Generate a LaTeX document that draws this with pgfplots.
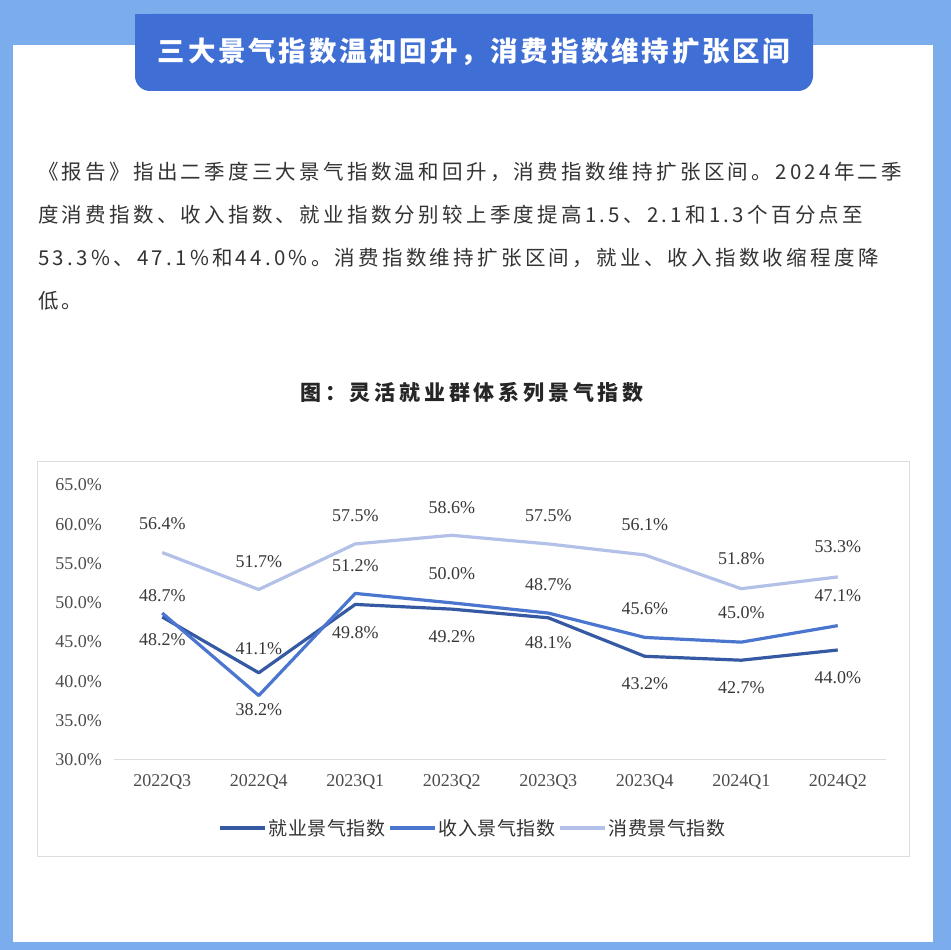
\documentclass[border=0pt]{standalone}
\usepackage{fontspec}
\usepackage{pgfplots}
\usepackage{pgfplotstable}
\pgfplotsset{compat=1.18}
\setmainfont{Liberation Serif}
\newfontfamily\cjkbody[LetterSpace=16]{Noto Sans CJK SC}
\newfontfamily\cjkhead[LetterSpace=10]{Noto Sans CJK SC}
\newfontfamily\cjktitle[LetterSpace=18]{Noto Sans CJK SC}
\newfontfamily\cjklegend[LetterSpace=3]{Noto Sans CJK SC}

\definecolor{frameblue}{HTML}{7BADEC}
\definecolor{bannerblue}{HTML}{3F6FD5}
\definecolor{boxgrey}{HTML}{DDDDDD}
\definecolor{txt}{HTML}{333333}
\definecolor{empc}{HTML}{3559A3}
\definecolor{incc}{HTML}{4A76CF}
\definecolor{conc}{HTML}{B3C1E8}

% x = quarter index, y = index value, dy = label offset (pt)
\pgfplotstableread{
x y dy
0 48.2 -23
1 41.1 24
2 49.8 -28
3 49.2 -28
4 48.1 -25
5 43.2 -27
6 42.7 -27
7 44.0 -28
}\emp
\pgfplotstableread{
x y dy
0 48.7 17
1 38.2 -14
2 51.2 28
3 50.0 29
4 48.7 28
5 45.6 29
6 45.0 29
7 47.1 30
}\inc
\pgfplotstableread{
x y dy
0 56.4 29
1 51.7 28
2 57.5 28
3 58.6 28
4 57.5 28
5 56.1 30
6 51.8 30
7 53.3 30
}\con

\begin{document}
\begin{tikzpicture}
% page frame
\fill[frameblue] (0,0) rectangle (951pt,950pt);
\fill[white] (13pt,8pt) rectangle (933pt,905pt);
% banner
\fill[bannerblue, rounded corners=15pt] (135pt,859pt) rectangle (813pt,936pt);
\fill[bannerblue] (135pt,900pt) rectangle (813pt,936pt);
\node[text=white, font=\cjkhead\fontsize{27.5}{30}\selectfont\bfseries] at (474pt,898pt)
  {三大景气指数温和回升，消费指数维持扩张区间};
% paragraph
\begin{scope}[every node/.style={anchor=west, inner sep=0pt, text=txt,
    font=\cjkbody\fontsize{20.5}{24}\selectfont}]
\node at (38pt,778pt) {《报告》指出二季度三大景气指数温和回升，消费指数维持扩张区间。2024年二季};
\node at (38pt,735pt) {度消费指数、收入指数、就业指数分别较上季度提高1.5、2.1和1.3个百分点至};
\node at (38pt,692pt) {53.3\%、47.1\%和44.0\%。消费指数维持扩张区间，就业、收入指数收缩程度降};
\node at (38pt,649pt) {低。};
\end{scope}
% chart title
\node[text=black!85, font=\cjktitle\fontsize{21}{24}\selectfont\bfseries] at (472pt,557pt)
  {图：灵活就业群体系列景气指数};
% chart box
\draw[boxgrey, line width=1pt] (37pt,93pt) rectangle (909pt,488pt);

\begin{axis}[
    at={(114pt,190pt)}, anchor=south west,
    scale only axis, width=772pt, height=275pt,
    xmin=-0.5, xmax=7.5, ymin=30, ymax=65,
    clip=false,
    separate axis lines,
    axis x line*=bottom, axis y line*=left,
    x axis line style={draw=boxgrey, line width=1pt, -},
    y axis line style={draw=none},
    major tick length=0pt,
    xtick={0,...,7},
    xticklabels={2022Q3,2022Q4,2023Q1,2023Q2,2023Q3,2023Q4,2024Q1,2024Q2},
    ytick={30,35,...,65},
    /pgf/number format/assume math mode=true,
    yticklabel={\pgfmathprintnumber[fixed,fixed zerofill,precision=1]{\tick}\%},
    ticklabel style={font=\fontsize{18}{18}\selectfont, text=black!70},
    xticklabel style={anchor=center, yshift=-22pt},
    yticklabel style={anchor=east, inner sep=0pt, xshift=-12pt},
    nodes near coords={\pgfmathprintnumber[fixed,fixed zerofill,precision=1]{\pgfplotspointmeta}\%},
    visualization depends on={\thisrow{dy} \as \dy},
    every node near coord/.append style={anchor=center, yshift=\dy pt,
        font=\fontsize{18}{18}\selectfont, text=black!78, inner sep=0pt},
    legend columns=3,
    legend image code/.code={\draw[#1] (0pt,0pt) -- (45pt,0pt);},
    legend style={at={(0.465,-0.247)}, anchor=center, draw=none, fill=none,
        font=\cjklegend\fontsize{19}{22}\selectfont, text=txt,
        nodes={inner sep=2pt},
        /tikz/every even column/.append style={column sep=1pt}},
]
\addplot[empc, line width=3.2pt, line join=round, no markers] table[x=x, y=y] {\emp};
\addlegendentry{就业景气指数}
\addplot[incc, line width=3.2pt, line join=round, no markers] table[x=x, y=y] {\inc};
\addlegendentry{收入景气指数}
\addplot[conc, line width=3.2pt, line join=round, no markers] table[x=x, y=y] {\con};
\addlegendentry{消费景气指数}
\end{axis}
\end{tikzpicture}
\end{document}
